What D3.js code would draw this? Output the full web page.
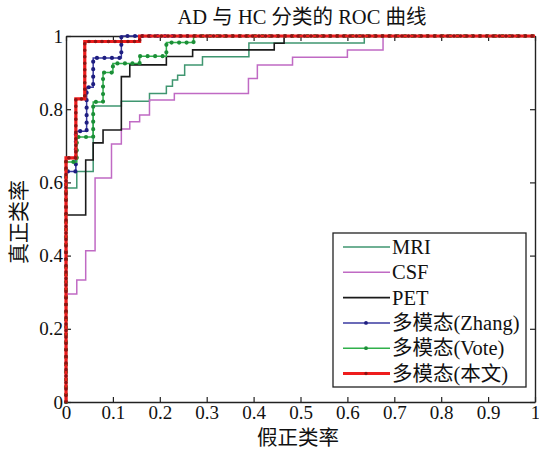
<!DOCTYPE html>
<html>
<head>
<meta charset="utf-8">
<script src="https://cdn.jsdelivr.net/npm/d3@7"></script>
<style>
  body { margin: 0; background: #fff; }
</style>
</head>
<body>
<div class="svg-container"></div>
<script>
// ROC operating points [fpr, tpr]
var mriRoc = [[0, 0.585], [0.023, 0.63], [0.058, 0.809], [0.118, 0.822], [0.178, 0.843], [0.214, 0.863],
  [0.227, 0.88], [0.238, 0.893], [0.253, 0.921], [0.291, 0.943], [0.39, 0.981], [0.636, 1], [1, 1]];
var csfRoc = [[0, 0.295], [0.023, 0.333], [0.042, 0.413], [0.062, 0.612], [0.097, 0.705], [0.118, 0.746],
  [0.136, 0.766], [0.157, 0.784], [0.178, 0.825], [0.231, 0.843], [0.389, 0.884], [0.408, 0.921],
  [0.483, 0.942], [0.6, 0.962], [0.676, 1], [1, 1]];
var petRoc = [[0, 0.511], [0.042, 0.661], [0.058, 0.708], [0.079, 0.743], [0.118, 0.889], [0.136, 0.921],
  [0.214, 0.944], [0.27, 0.962], [0.444, 0.98], [0.465, 1], [1, 1]];
var zhangRoc = [[0, 0.63], [0.021, 0.74], [0.044, 0.86], [0.058, 0.94], [0.118, 1], [1, 1]];
var voteRoc = [[0, 0.656], [0.023, 0.724], [0.058, 0.82], [0.079, 0.9], [0.1, 0.925], [0.157, 0.945],
  [0.214, 0.982], [0.272, 1], [1, 1]];
var oursRoc = [[0, 0.667], [0.021, 0.828], [0.04, 0.985], [0.157, 1], [1, 1]];

var seriesNames = ["MRI", "CSF", "PET", "多模态(Zhang)", "多模态(Vote)", "多模态(本文)"];
var xTicks = [0, 0.1, 0.2, 0.3, 0.4, 0.5, 0.6, 0.7, 0.8, 0.9, 1];
var yTicks = [0, 0.2, 0.4, 0.6, 0.8, 1];
var title = "AD 与 HC 分类的 ROC 曲线";
var xTitle = "假正类率";
var yTitle = "真正类率";

var width = 539, height = 452;
var plotL = 66, plotR = 535, plotT = 36, plotB = 402;
var fontFam = "'Liberation Serif', 'Noto Sans CJK SC'";

var svg = d3.select(".svg-container").append("svg")
  .attr("width", width).attr("height", height)
  .attr("font-family", fontFam);

var x = d3.scaleLinear().domain([0, 1]).range([plotL, plotR]);
var y = d3.scaleLinear().domain([0, 1]).range([plotB, plotT]);

var fmt = d => String(+d.toFixed(1));

// axes, ticks pointing inward on all four sides
var axes = [
  {axis: d3.axisBottom(x).tickValues(xTicks).tickFormat(fmt), tr: [0, plotB]},
  {axis: d3.axisTop(x).tickValues(xTicks).tickFormat(""), tr: [0, plotT]},
  {axis: d3.axisLeft(y).tickValues(yTicks).tickFormat(fmt), tr: [plotL, 0]},
  {axis: d3.axisRight(y).tickValues(yTicks).tickFormat(""), tr: [plotR, 0]}
];
axes.forEach(a => {
  var g = svg.append("g").attr("transform", "translate(" + a.tr + ")")
    .call(a.axis.tickSize(-5).tickSizeOuter(0).tickPadding(3))
    .attr("font-family", fontFam).attr("font-size", 19);
  g.select(".domain").attr("stroke", "#222").attr("stroke-width", 1.4);
  g.selectAll(".tick line").attr("stroke", "#222").attr("stroke-width", 1.2);
  g.selectAll("text").attr("fill", "#111");
});

var line = d3.line()
  .x(d => x(d[0])).y(d => y(d[1]))
  .curve(d3.curveStepAfter);

var series = [
  {data: mriRoc, color: "#3f9670", width: 1.5},
  {data: csfRoc, color: "#c06ac4", width: 1.5},
  {data: petRoc, color: "#1a1a1a", width: 1.6},
  {data: zhangRoc, color: "#3a3aa0", width: 1.5, dot: "#1e1e80", dotW: 4.2, gap: 7.5},
  {data: voteRoc, color: "#2fb04a", width: 1.5, dot: "#1c8f38", dotW: 4.2, gap: 7.5},
  {data: oursRoc, color: "#ee1c1c", width: 3.2, dot: "#8e1414", dotW: 3.6, gap: 6.5}
];

series.forEach(s => {
  var pts = [[0, 0]].concat(s.data);
  svg.append("path").datum(pts)
    .attr("fill", "none").attr("stroke", s.color).attr("stroke-width", s.width)
    .attr("d", line);
  if (s.dot) {
    // markers at the sampled thresholds along the curve
    svg.append("path").datum(pts)
      .attr("fill", "none").attr("stroke", s.dot).attr("stroke-width", s.dotW)
      .attr("stroke-linecap", "round").attr("stroke-dasharray", "0 " + s.gap)
      .attr("d", line);
  }
});

// legend
var lg = svg.append("g").attr("transform", "translate(333,233)");
lg.append("rect").attr("width", 193).attr("height", 154)
  .attr("fill", "#fff").attr("stroke", "#222").attr("stroke-width", 1.3);
seriesNames.forEach((name, i) => {
  var s = series[i];
  var cy = 14 + i * 25.3;
  lg.append("line").attr("x1", 10).attr("x2", 57).attr("y1", cy).attr("y2", cy)
    .attr("stroke", s.color).attr("stroke-width", s.width);
  if (s.dot) {
    lg.append("circle").attr("cx", 33).attr("cy", cy).attr("r", s.dotW / 2.2).attr("fill", s.dot);
  }
  lg.append("text").attr("x", 59).attr("y", cy + 7)
    .attr("font-size", 20.5).attr("fill", "#111").text(name);
});

// titles
svg.append("text").attr("x", 302).attr("y", 24).attr("text-anchor", "middle")
  .attr("font-size", 20.5).attr("fill", "#111").text(title);
svg.append("text").attr("x", 298).attr("y", 445).attr("text-anchor", "middle")
  .attr("font-size", 20.5).attr("fill", "#111").text(xTitle);
svg.append("text").attr("transform", "translate(26,222) rotate(-90)").attr("text-anchor", "middle")
  .attr("font-size", 21).attr("fill", "#111").text(yTitle);
</script>
</body>
</html>
